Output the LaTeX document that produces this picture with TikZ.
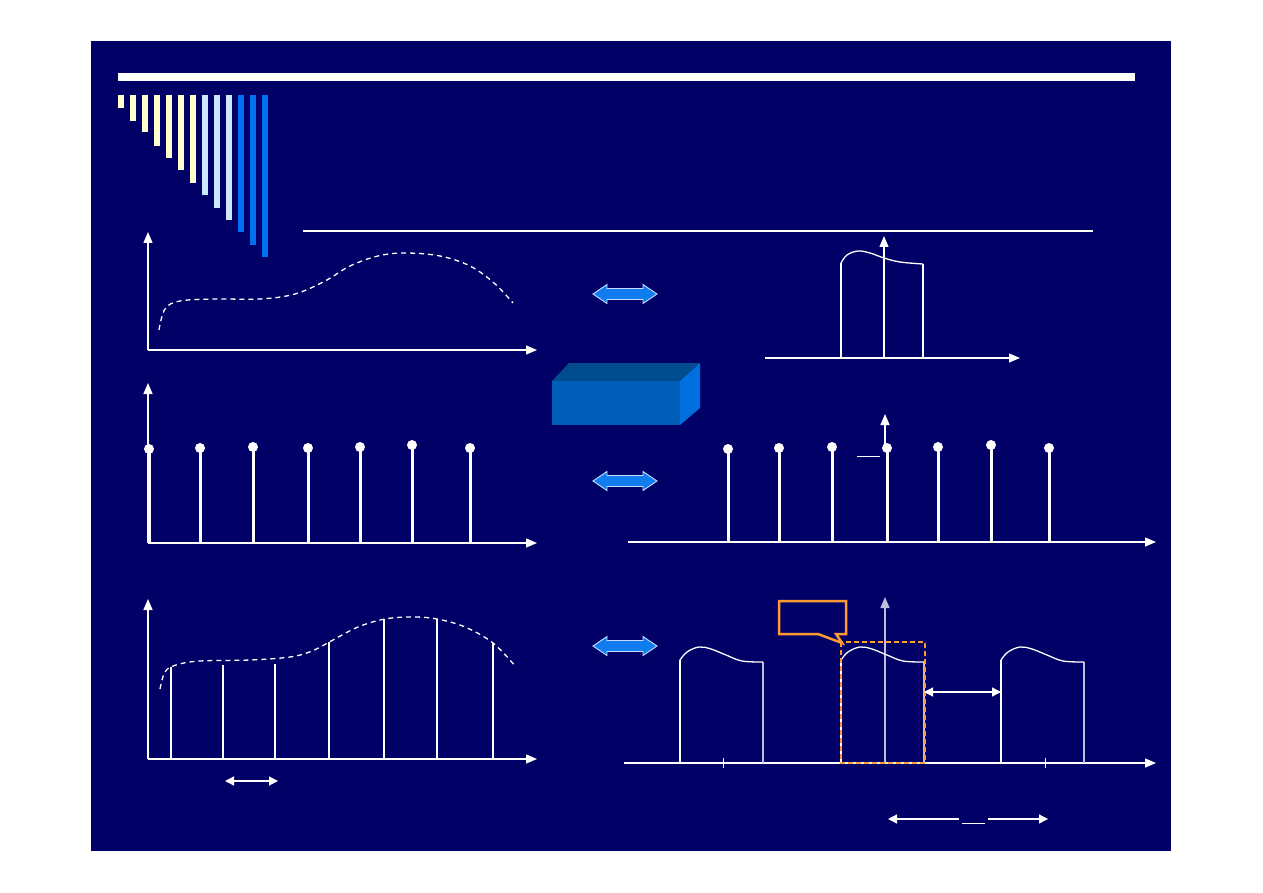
\documentclass[tikz,border=0pt]{standalone}
\usetikzlibrary{arrows.meta}
\definecolor{navy}{RGB}{0,0,102}
\definecolor{barY}{RGB}{255,255,204}
\definecolor{barL}{RGB}{204,232,255}
\definecolor{barB}{RGB}{0,112,240}
\definecolor{arrfill}{RGB}{16,124,240}
\definecolor{arredge}{RGB}{200,222,255}
\definecolor{boxfront}{RGB}{0,94,184}
\definecolor{boxtop}{RGB}{0,76,140}
\definecolor{boxside}{RGB}{0,112,224}
\definecolor{orng}{RGB}{255,153,51}
\definecolor{lgrey}{RGB}{190,190,220}
\tikzset{
  axis/.style={white, line width=1.4pt, -{Triangle[length=11pt,width=9pt]}},
  thinline/.style={white, line width=1.3pt},
  stemline/.style={white, line width=3pt},
  dashcurve/.style={white, line width=1.3pt, dash pattern=on 5pt off 4pt},
  dimarrow/.style={white, line width=1.3pt, {Triangle[length=9pt,width=9pt]}-{Triangle[length=9pt,width=9pt]}},
  halfarrow/.style={white, line width=1.3pt, -{Triangle[length=9pt,width=9pt]}},
  orangebox/.style={orng, line width=1.5pt, dash pattern=on 5pt off 3pt},
  callout/.style={orng, line width=2.5pt, line join=miter},
  blockarrow/.pic={
    \filldraw[fill=arrfill, draw=arredge, line width=0.9pt]
      (-32,0) -- (-18,-9.5) -- (-18,-5.5) -- (18,-5.5) -- (18,-9.5) -- (32,0)
      -- (18,9.5) -- (18,5.5) -- (-18,5.5) -- (-18,9.5) -- cycle;
  }
}
\begin{document}
\begin{tikzpicture}[x=1pt,y=-1pt]
\useasboundingbox (0,0) rectangle (1263,893);
\fill[white] (0,0) rectangle (1263,893);
\fill[navy] (91,41) rectangle (1171,851);

% title bar and decorative bars
\fill[white] (118,73) rectangle (1135,81);
\foreach \i/\b/\c in {0/108/barY,1/121/barY,2/132/barY,3/146/barY,4/158/barY,5/170/barY,6/183/barY,
                      7/195/barL,8/208/barL,9/220/barL,10/232/barB,11/245/barB,12/257/barB}{
  \fill[\c] ({118+12*\i},95) rectangle ({124+12*\i},\b);
}
\draw[white, line width=1.8pt] (303,231) -- (1093,231);

% ---------- top-left: continuous signal
\coordinate (o1) at (148,350);
\coordinate (y1) at (148,232);
\coordinate (x1) at (537,350);
\draw[axis] (o1) -- (y1);
\draw[axis] (o1) -- (x1);
\draw[dashcurve] plot[smooth, tension=0.6] coordinates {(159,330) (165,309) (180,301) (215,299) (260,299) (295,294) (325,281) (350,266) (378,256) (405,253) (440,256) (470,266) (494,283) (513,303)};

% ---------- top-right: spectrum
\coordinate (o2) at (884,358);
\coordinate (a2) at (765,358);
\coordinate (x2) at (1020,358);
\coordinate (y2) at (884,236);
\draw[axis] (a2) -- (x2);
\draw[axis] (o2) -- (y2);
\draw[thinline] (841,358) -- (841,263);
\draw[thinline] (923,358) -- (923,264);
\draw[thinline] plot[smooth, tension=0.6] coordinates {(841,263) (847,255) (858,251) (870,253) (884,258) (900,262) (923,264)};

% ---------- block arrows
\pic at (625,294) {blockarrow};
\pic at (625,481) {blockarrow};
\pic at (625,646) {blockarrow};

% ---------- 3D box
\fill[boxtop] (552,381) -- (569,363) -- (700,363) -- (680,381) -- cycle;
\fill[boxside] (680,381) -- (700,363) -- (700,408) -- (680,425) -- cycle;
\fill[boxfront] (552,381) rectangle (680,425);

% ---------- middle-left: impulse train
\coordinate (o3) at (148,543);
\coordinate (y3) at (148,383);
\coordinate (x3) at (537,543);
\draw[axis] (o3) -- (y3);
\draw[axis] (o3) -- (x3);
\foreach \x/\t in {149/449,200/448,253/447,308/448,360/447,412/445,470/448}{
  \draw[stemline] (\x,543) -- (\x,\t);
  \fill[white] (\x,\t) circle[radius=5pt];
}

% ---------- middle-right: impulse train spectrum
\coordinate (a4) at (628,542);
\coordinate (x4) at (1156,542);
\coordinate (o4) at (885,448);
\coordinate (y4) at (885,414);
\draw[axis] (a4) -- (x4);
\draw[axis] (o4) -- (y4);
\foreach \x/\t in {728/449,779/448,832/447,887/448,938/447,991/445,1049/448}{
  \draw[stemline] (\x,542) -- (\x,\t);
  \fill[white] (\x,\t) circle[radius=5pt];
}
\draw[white, line width=1pt] (857,456) -- (880,456);

% ---------- bottom-left: sampled signal
\coordinate (o5) at (148,759);
\coordinate (y5) at (148,599);
\coordinate (x5) at (537,759);
\draw[axis] (o5) -- (y5);
\draw[axis] (o5) -- (x5);
\foreach \x/\t in {171/667,223/665,275/664,329/642,384/619,437/619,493/643}{
  \draw[white, line width=1.2pt] (\x,759) -- (\x,\t);
}
\draw[dashcurve] plot[smooth, tension=0.6] coordinates {(160,689) (165,672) (176,665) (200,661) (250,660) (290,657) (312,651) (333,640) (358,627) (385,619) (412,617) (437,619) (465,627) (493,643) (516,667)};
\coordinate (ts1) at (225,781);
\coordinate (ts2) at (278,781);
\draw[dimarrow] (ts1) -- (ts2);

% ---------- bottom-right: periodic spectrum
\coordinate (a6) at (624,763);
\coordinate (x6) at (1156,763);
\coordinate (o6) at (885,763);
\coordinate (y6) at (885,597);
\draw[axis] (a6) -- (x6);
\draw[lgrey, line width=1.4pt, -{Triangle[length=11pt,width=9pt]}] (o6) -- (y6);
\draw[white, line width=1pt] (723,758) -- (723,768);
\draw[white, line width=1pt] (1045,758) -- (1045,768);
\foreach \L in {680,841,1001}{
  \draw[thinline] (\L,763) -- (\L,660);
  \draw[lgrey, line width=1.3pt] ({\L+83},763) -- ({\L+83},662);
  \draw[thinline] plot[smooth, tension=0.6] coordinates {(\L,660) ({\L+7},652) ({\L+19},647) ({\L+31},649) ({\L+46},655) ({\L+62},661) ({\L+83},662)};
}
\draw[orangebox] (841,642) rectangle (925,763);
\draw[callout] (818,634) -- (779,634) -- (779,601) -- (846,601) -- (846,634) -- (836,634) -- (842,643) -- cycle;
\coordinate (g1) at (924,692);
\coordinate (g2) at (1001,692);
\draw[dimarrow] (g1) -- (g2);
\coordinate (ws) at (959,819);
\coordinate (wl) at (888,819);
\coordinate (we) at (988,819);
\coordinate (wr) at (1048,819);
\draw[halfarrow] (ws) -- (wl);
\draw[halfarrow] (we) -- (wr);
\draw[white, line width=1pt] (962,823) -- (985,823);
\end{tikzpicture}
\end{document}
